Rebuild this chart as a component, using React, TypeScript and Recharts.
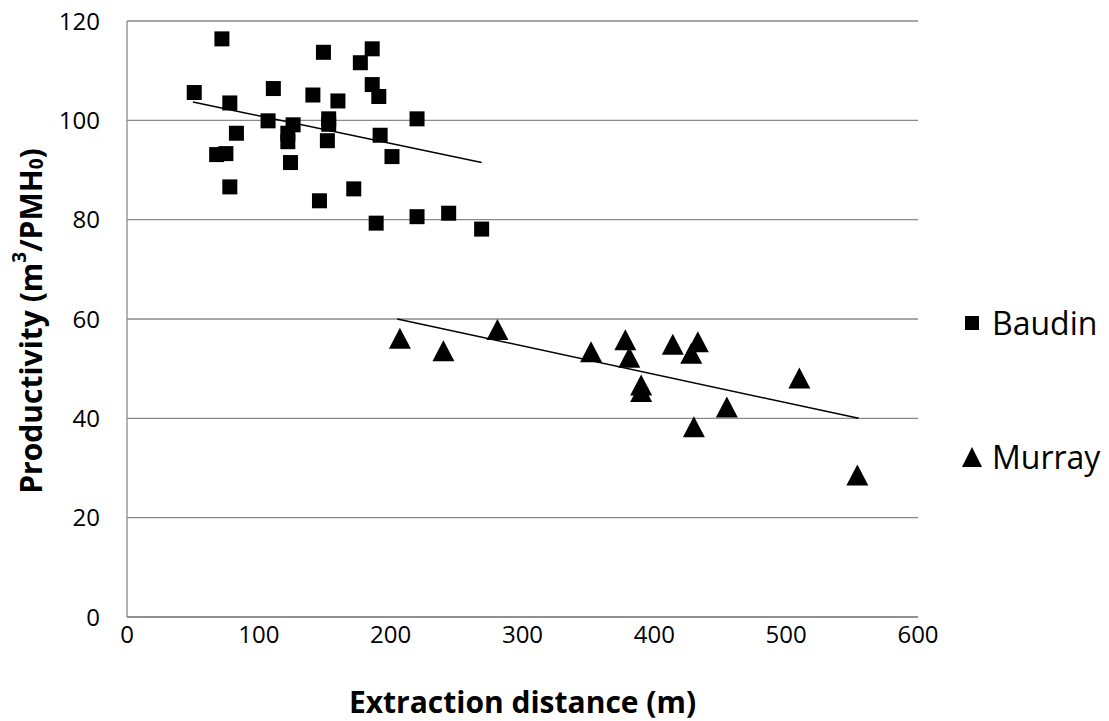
import React from 'react'
import {
  ScatterChart, Scatter, XAxis, YAxis, CartesianGrid, ReferenceLine, Label,
} from 'recharts'

// Baudin site: extraction distance (m) vs productivity
const baudinDistance = [72, 149, 186, 177, 51, 111, 141, 160, 186, 191, 78, 220, 107, 126, 153, 153, 152, 122, 122, 124, 83, 192, 68, 75, 201, 78, 172, 146, 189, 220, 244, 269]
const baudinProductivity = [116.4, 113.7, 114.4, 111.6, 105.6, 106.4, 105.1, 103.9, 107.2, 104.8, 103.5, 100.3, 99.9, 99.1, 100.3, 99.2, 95.9, 97.4, 95.7, 91.5, 97.4, 97.0, 93.1, 93.3, 92.7, 86.6, 86.2, 83.8, 79.3, 80.6, 81.3, 78.1]

// Murray site
const murrayDistance = [207, 240, 281, 352, 378, 381, 390, 390, 414, 428, 433, 430, 455, 510, 554]
const murrayProductivity = [56.1, 53.6, 57.9, 53.4, 55.8, 52.3, 46.7, 45.4, 54.9, 53.1, 55.4, 38.3, 42.3, 48.1, 28.6]

// linear trend endpoints
const baudinTrend = [{ x: 50, y: 103.7 }, { x: 269, y: 91.5 }]
const murrayTrend = [{ x: 205, y: 60 }, { x: 555, y: 40 }]

const xTicks = [0, 100, 200, 300, 400, 500, 600]
const yTicks = [0, 20, 40, 60, 80, 100, 120]

const baudinData = baudinDistance.map((x, i) => ({ x, y: baudinProductivity[i] }))
const murrayData = murrayDistance.map((x, i) => ({ x, y: murrayProductivity[i] }))

const FONT = '"Open Sans", "Noto Sans", sans-serif'
const GRID = '#8a8a8a'

const SquareDot = (props: any) => {
  const { cx, cy } = props
  if (cx == null || cy == null) return null
  return <rect x={cx - 7.5} y={cy - 7.5} width={15} height={15} fill="#000" />
}

const TriangleDot = (props: any) => {
  const { cx, cy } = props
  if (cx == null || cy == null) return null
  const w = 22, h = 21
  return <polygon points={`${cx},${cy - h / 2} ${cx + w / 2},${cy + h / 2} ${cx - w / 2},${cy + h / 2}`} fill="#000" />
}

const YTitle = (props: any) => {
  const { viewBox } = props
  const cx = 30
  const cy = viewBox.y + viewBox.height / 2 + 2
  return (
    <text
      x={cx} y={cy}
      transform={`rotate(-90, ${cx}, ${cy})`}
      textAnchor="middle" dominantBaseline="central"
      style={{ fontFamily: FONT, fontSize: 30, fontWeight: 700, fill: '#000' }}
    >
      Productivity (m<tspan fontSize={19} dy={-11}>3</tspan><tspan dy={11}>/PMH</tspan><tspan fontSize={19} dy={6}>0</tspan><tspan dy={-6}>)</tspan>
    </text>
  )
}

const LegendBox = () => (
  <div style={{ position: 'absolute', left: 958, top: 303, fontFamily: FONT, fontSize: 32, color: '#000', lineHeight: 1 }}>
    <div style={{ display: 'flex', alignItems: 'center', height: 40 }}>
      <svg width={28} height={20}><rect x={7} y={3} width={14} height={14} fill="#000" /></svg>
      <span style={{ marginLeft: 6 }}>Baudin</span>
    </div>
    <div style={{ display: 'flex', alignItems: 'center', height: 40, marginTop: 94 }}>
      <svg width={28} height={22}><polygon points="14,1 24,21 4,21" fill="#000" /></svg>
      <span style={{ marginLeft: 6 }}>Murray</span>
    </div>
  </div>
)

export default function App() {
  return (
    <div style={{ position: 'absolute', left: 0, top: 0, width: 1109, height: 721, background: '#fff' }}>
      <ScatterChart width={1109} height={721} margin={{ top: 21, right: 191, left: 20, bottom: 44 }}>
        <CartesianGrid vertical={false} stroke={GRID} strokeWidth={1.3} />
        <XAxis
          type="number" dataKey="x" domain={[0, 600]} ticks={xTicks}
          height={60} tickSize={0} tickMargin={9}
          axisLine={{ stroke: GRID, strokeWidth: 1.3 }} tickLine={false}
          tick={{ fontFamily: FONT, fontSize: 24, fill: '#000' }}
        >
          <Label
            value="Extraction distance (m)" position="insideBottom" offset={-36}
            style={{ fontFamily: FONT, fontSize: 30, fontWeight: 700, fill: '#000' }}
          />
        </XAxis>
        <YAxis
          type="number" dataKey="y" domain={[0, 120]} ticks={yTicks}
          width={107} tickSize={0} tickMargin={27}
          axisLine={{ stroke: GRID, strokeWidth: 1.3 }} tickLine={false}
          tick={{ fontFamily: FONT, fontSize: 24, fill: '#000' }}
        >
          <Label content={<YTitle />} />
        </YAxis>
        <Scatter name="Baudin" data={baudinData} shape={<SquareDot />} isAnimationActive={false} />
        <Scatter name="Murray" data={murrayData} shape={<TriangleDot />} isAnimationActive={false} />
        <ReferenceLine segment={baudinTrend} stroke="#000" strokeWidth={1.5} />
        <ReferenceLine segment={murrayTrend} stroke="#000" strokeWidth={1.5} />
      </ScatterChart>
      <LegendBox />
    </div>
  )
}
